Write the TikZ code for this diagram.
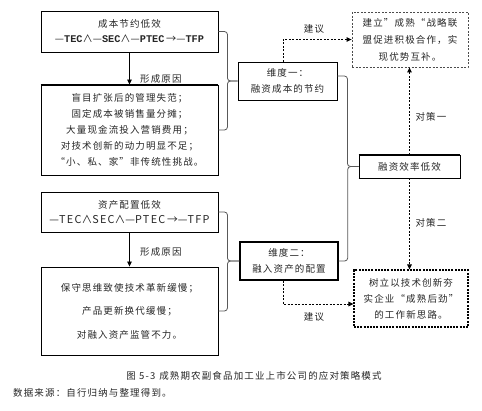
\documentclass[tikz,border=0pt]{standalone}
\usepackage{fontspec}
\usepackage{graphicx}
\setmainfont{Liberation Serif}
\newfontfamily\cjk[LetterSpace=12]{Noto Sans CJK SC}
\newfontfamily\cjknosp{Noto Sans CJK SC}
\newfontfamily\latmono{Liberation Mono}
\usetikzlibrary{arrows.meta}
\begin{document}
\begin{tikzpicture}[x=1pt,y=-1pt,
  txt/.style={font=\cjk\fontsize{9.5}{16}\selectfont, text=black!85},
  box/.style={txt, draw=black, line width=0.9pt, inner sep=0pt, align=center},
  dbox1/.style={txt, draw=black!70, line width=0.8pt, dash pattern=on 2pt off 1.5pt, inner sep=0pt, align=center},
  dbox2/.style={txt, draw=black, line width=1.1pt, dash pattern=on 2pt off 1.2pt, inner sep=0pt, align=center},
  lbl/.style={txt, inner sep=0pt},
  brk/.style={draw=black!65, line width=0.8pt, rounded corners=3pt},
  arr/.style={line width=0.8pt, -{Triangle[length=5pt,width=4.5pt]}},
  darr/.style={line width=1pt, dash pattern=on 2pt off 1.5pt, -{Triangle[length=5pt,width=4.5pt]}}
]
\fill[white] (0,0) rectangle (482,410);
\useasboundingbox (0,0) rectangle (482,410);

% left column
\node[box, minimum width=177pt, minimum height=41pt] (b1) at (129.5,31.5)
  {成本节约低效\\[-1pt]
   \resizebox{149pt}{!}{{\cjknosp —}{\latmono\bfseries TEC}{\cjknosp ∧—}{\latmono\bfseries SEC}{\cjknosp ∧—}{\latmono\bfseries PTEC\,}{\cjknosp →—}{\latmono\bfseries TFP}}};
\node[box, minimum width=177pt, minimum height=90pt] (b2) at (129.5,130)
  {盲目扩张后的管理失范；\\固定成本被销售量分摊；\\大量现金流投入营销费用；\\对技术创新的动力明显不足；\\“小、私、家”非传统性挑战。};
\node[box, minimum width=177pt, minimum height=40pt] (b3) at (129.5,212)
  {资产配置低效\\[-1pt]
   \resizebox{160pt}{!}{{\cjknosp —}TEC{\cjknosp ∧}SEC{\cjknosp ∧—}PTEC\,{\cjknosp →—}TFP}};
\node[box, minimum width=177pt, minimum height=88pt, font=\cjk\fontsize{9.5}{23.5}\selectfont] (b4) at (129.5,311)
  {保守思维致使技术革新缓慢；\\产品更新换代缓慢；\\对融入资产监管不力。};

\draw[line width=2pt] (b2.north west) -- (b2.north east);

\draw[arr] (b1) -- (b2);
\draw[arr] (b3) -- (b4);
\node[lbl, anchor=west] (l1) at (140,79) {形成原因};
\node[lbl, anchor=west] (l2) at (140,252) {形成原因};

% middle column
\node[box, minimum width=99pt, minimum height=38pt] (d1) at (287.5,81) {维度一：\\融资成本的节约};
\node[box, line width=1.4pt, minimum width=98pt, minimum height=38pt] (d2) at (289,261) {维度二：\\融入资产的配置};

% right column
\node[dbox1, minimum width=116pt, minimum height=55pt, font=\cjk\fontsize{9.5}{17}\selectfont] (t1) at (410,39.5)
  {建立”成熟“战略联\\盟促进积极合作，实\\现优势互补。};
\node[box, minimum width=101pt, minimum height=23pt] (e) at (409.5,166.5) {融资效率低效};
\draw[line width=1.8pt] (e.north west) -- (e.north east);
\draw[line width=1.4pt] (e.south west) -- (e.south east);
\node[dbox2, minimum width=114pt, minimum height=57pt] (t2) at (411,298.5)
  {树立以技术创新夯\\实企业“成熟后劲”\\的工作新思路。};

% brackets
\draw[brk] (b1.east) -- ++(9pt,0pt) |- (d1.west);
\draw[brk] (b2.east) -- ++(9pt,0pt) |- (d1.west);
\draw[brk] (b3.east) -- ++(9pt,0pt) |- (d2.west);
\draw[brk] (b4.east) -- ++(9pt,0pt) |- (d2.west);
\draw[brk] ([yshift=5pt]d1.east) -- ++(10pt,0pt) |- (e.west);
\draw[brk] (d2.east) -- ++(9pt,0pt) |- (e.west);

% dashed arrows
\draw[darr] ([xshift=-4.5pt]d1.north) |- (t1.west);
\draw[darr] ([xshift=-6pt]d2.south) |- ([yshift=-5.5pt]t2.west);
\draw[darr] (e.north) -- (e.north |- t1.south);
\draw[darr] (e.south) -- (e.south |- t2.north);
\node[lbl] (s1) at (314,29) {建议};
\node[lbl] (s2) at (314,317) {建议};
\node[lbl] (c1) at (431,117) {对策一};
\node[lbl] (c2) at (431,223) {对策二};

% caption
\node[lbl, font=\cjk\fontsize{9.5}{12}\selectfont] (cap) at (254,376) {图 5-3\hspace{4pt}成熟期农副食品加工业上市公司的应对策略模式};
\node[lbl, anchor=west, font=\cjk\fontsize{9.5}{12}\selectfont] (src) at (13,393) {数据来源：自行归纳与整理得到。};
\end{tikzpicture}
\end{document}
